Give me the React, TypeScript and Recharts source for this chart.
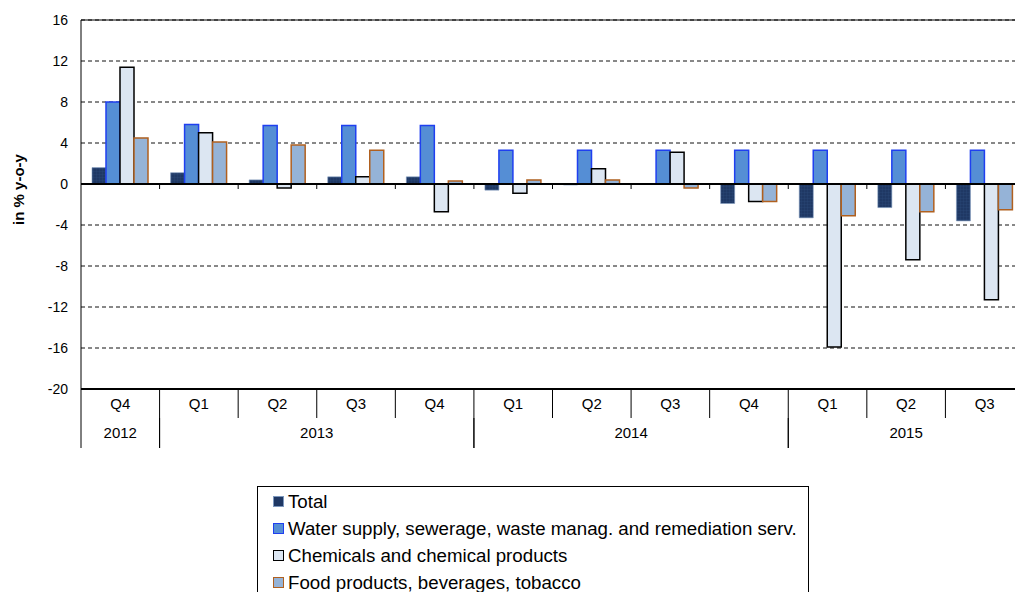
import React from 'react';
import {
  BarChart,
  Bar,
  XAxis,
  YAxis,
  CartesianGrid,
  ReferenceLine,
  Legend,
  Label
} from 'recharts';

const quarters = ['Q4', 'Q1', 'Q2', 'Q3', 'Q4', 'Q1', 'Q2', 'Q3', 'Q4', 'Q1', 'Q2', 'Q3'];
const years = ['2012', '2013', '2013', '2013', '2013', '2014', '2014', '2014', '2014', '2015', '2015', '2015'];

const total = [1.6, 1.1, 0.4, 0.7, 0.7, -0.6, -0.1, 0, -1.9, -3.3, -2.3, -3.6];
const water = [8.0, 5.8, 5.7, 5.7, 5.7, 3.3, 3.3, 3.3, 3.3, 3.3, 3.3, 3.3];
const chemicals = [11.4, 5.0, -0.4, 0.7, -2.7, -0.9, 1.5, 3.1, -1.7, -15.9, -7.4, -11.3];
const food = [4.5, 4.1, 3.8, 3.3, 0.3, 0.4, 0.4, -0.4, -1.7, -3.1, -2.7, -2.5];

const yTicks = [-20, -16, -12, -8, -4, 0, 4, 8, 12, 16];

const data = quarters.map((q, i) => ({
  q,
  year: years[i],
  total: total[i],
  water: water[i],
  chemicals: chemicals[i],
  food: food[i]
}));

const series = [
  { key: 'total', name: 'Total', fill: 'url(#totalPat)', swatch: '#1F3864', stroke: '#7D98BE', width: 0.6 },
  { key: 'water', name: 'Water supply, sewerage, waste manag. and remediation serv.', fill: '#558ED5', swatch: '#558ED5', stroke: '#1F3FF0', width: 1.5 },
  { key: 'chemicals', name: 'Chemicals and chemical products', fill: '#DCE6F2', swatch: '#DCE6F2', stroke: '#000000', width: 1.5 },
  { key: 'food', name: 'Food products, beverages, tobacco', fill: '#95B3D7', swatch: '#95B3D7', stroke: '#B0601F', width: 1.5 }
];

// layout
const W = 1030;
const H = 592;
const M = { top: 20, right: 6, left: 0, bottom: 144 };
const Y_W = 81;
const Q_H = 29;
const YR_H = 30;
const PLOT_W = W - M.left - M.right - Y_W;
const PLOT_H = H - M.top - M.bottom - Q_H - YR_H;
const BAND = PLOT_W / quarters.length;
const ZERO_Y = M.top + (16 / 36) * PLOT_H;

const QTick = (props: any) => {
  const { x, y, payload } = props;
  const left = x - BAND / 2;
  const isLast = payload.index === quarters.length - 1;
  return (
    <g>
      <line x1={left} x2={left} y1={y} y2={y + Q_H} stroke="#000" />
      {isLast && <line x1={left + BAND} x2={left + BAND} y1={y} y2={y + Q_H} stroke="#000" />}
      {payload.index > 0 && (
        <line x1={left} x2={left} y1={ZERO_Y} y2={ZERO_Y + 5} stroke="#000" />
      )}
      <text x={x} y={y + 20} textAnchor="middle" fontSize={15} fill="#000">
        {payload.value}
      </text>
    </g>
  );
};

const YearTick = (props: any) => {
  const { x, y, payload } = props;
  const i = payload.index;
  if (i > 0 && years[i] === years[i - 1]) return <g />;
  const count = years.filter((v) => v === years[i]).length;
  const left = x - BAND / 2;
  return (
    <g>
      <line x1={left} x2={left} y1={y} y2={y + YR_H} stroke="#000" />
      <line x1={left + count * BAND} x2={left + count * BAND} y1={y} y2={y + YR_H} stroke="#000" />
      <text x={left + (count * BAND) / 2} y={y + 20} textAnchor="middle" fontSize={15} fill="#000">
        {years[i]}
      </text>
    </g>
  );
};

const LegendBox = () => (
  <div
    style={{
      border: '1px solid #000',
      width: 552,
      height: 130,
      boxSizing: 'border-box',
      background: '#fff',
      paddingLeft: 15,
      paddingTop: 1,
      fontFamily: '"Liberation Sans", Arial, sans-serif'
    }}
  >
    {series.map((s) => (
      <div key={s.key} style={{ height: 27, display: 'flex', alignItems: 'center', fontSize: 18.7, color: '#000' }}>
        <span
          style={{
            display: 'inline-block',
            width: 11,
            height: 11,
            background: s.swatch,
            border: `1.5px solid ${s.stroke}`,
            boxSizing: 'border-box',
            marginRight: 4
          }}
        />
        <span>{s.name}</span>
      </div>
    ))}
  </div>
);

const YLabel = (props: any) => {
  const { viewBox } = props;
  const cy = viewBox.y + viewBox.height / 2 - 15;
  return (
    <text
      x={18}
      y={cy}
      transform={`rotate(-90, 18, ${cy})`}
      textAnchor="middle"
      dominantBaseline="central"
      fontSize={15}
      fontWeight="bold"
      fill="#000"
    >
      in % y-o-y
    </text>
  );
};

export default function App() {
  return (
    <div
      style={{
        position: 'absolute',
        left: 0,
        top: 0,
        width: 1015,
        height: 592,
        overflow: 'hidden',
        background: '#fff',
        fontFamily: '"Liberation Sans", Arial, sans-serif'
      }}
    >
      <BarChart width={W} height={H} data={data} margin={M} barCategoryGap="14%" barGap={0}>
        <defs>
          <pattern id="totalPat" width={3} height={3} patternUnits="userSpaceOnUse">
            <rect width={3} height={3} fill="#1F3864" />
            <path d="M0 0 L3 0 M0 0 L0 3" stroke="#2E4E80" strokeWidth={0.5} />
          </pattern>
        </defs>
        <CartesianGrid vertical={false} strokeDasharray="4 3" stroke="#111" />
        <XAxis
          dataKey="q"
          interval={0}
          height={Q_H}
          tickSize={0}
          tickMargin={0}
          tickLine={false}
          axisLine={false}
          tick={<QTick />}
        />
        <XAxis
          dataKey="year"
          xAxisId="year"
          interval={0}
          height={YR_H}
          tickSize={0}
          tickMargin={0}
          tickLine={false}
          axisLine={false}
          tick={<YearTick />}
        />
        <YAxis
          width={Y_W}
          domain={[-20, 16]}
          ticks={yTicks}
          interval={0}
          tickLine={false}
          tickSize={6}
          tickMargin={7}
          axisLine={{ stroke: '#000' }}
          tick={{ fill: '#000', fontSize: 14 }}
        >
          <Label content={<YLabel />} />
        </YAxis>
        <ReferenceLine y={16} stroke="#000" strokeWidth={1} />
        <ReferenceLine y={-20} stroke="#000" strokeWidth={2} />
        {series.map((s) => (
          <Bar
            key={s.key}
            dataKey={s.key}
            name={s.name}
            fill={s.fill}
            stroke={s.stroke}
            strokeWidth={s.width}
            isAnimationActive={false}
          />
        ))}
        <ReferenceLine y={0} stroke="#000" strokeWidth={2} />
        <Legend
          layout="vertical"
          verticalAlign="middle"
          align="center"
          wrapperStyle={{ left: 257, top: 486, width: 552 }}
          content={<LegendBox />}
        />
      </BarChart>
    </div>
  );
}
